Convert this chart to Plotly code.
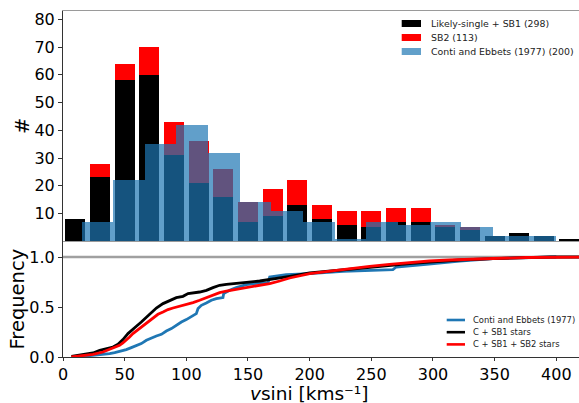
import plotly.graph_objects as go

# ---------------------------------------------------------------------------
# Histogram of projected rotational velocities (20 km/s bins, 0-420 km/s)
# ---------------------------------------------------------------------------
bin_left = [0, 20, 40, 60, 80, 100, 120, 140, 160, 180, 200,
            220, 240, 260, 280, 300, 320, 340, 360, 380, 400]
n_single_sb1 = [8, 23, 58, 60, 31, 21, 16, 7, 9, 13, 8,
                6, 5, 7, 7, 5, 4, 2, 3, 2, 1]
n_sb2 = [0, 5, 6, 10, 12, 15, 10, 7, 10, 9, 5,
         5, 6, 5, 5, 1, 1, 0, 0, 0, 0]

# Conti & Ebbets (1977) sample: 15 bins between 15 and 400 km/s
ce_edges = [15.0, 40.7, 66.3, 92.0, 117.7, 143.3, 169.0, 194.7,
            220.3, 246.0, 271.7, 297.3, 323.0, 348.7, 374.3, 400.0]
ce_counts = [7, 22, 35, 42, 32, 14, 11, 7, 1, 7, 6, 7, 5, 2, 2]

# ---------------------------------------------------------------------------
# Cumulative distributions
# ---------------------------------------------------------------------------
cdf_ce_v = [15.0, 24.3, 32.4, 37.8, 41.9, 47.3, 51.3, 55.4, 59.5, 63.5,
            67.6, 71.6, 75.7, 79.8, 83.8, 87.9, 91.9, 96.0, 100.0, 104.1,
            108.1, 109.5, 112.2, 116.2, 120.3, 124.3, 129.7, 130.3, 135.1, 140.5,
            148.6, 159.5, 166.2, 167.6, 181.0, 200.0, 227.0, 267.5, 270.2, 294.5,
            321.6, 348.6, 375.6, 400.0]
cdf_ce_f = [0.005, 0.017, 0.024, 0.034, 0.044, 0.057, 0.074, 0.094, 0.117, 0.134,
            0.167, 0.190, 0.210, 0.227, 0.260, 0.284, 0.317, 0.350, 0.374, 0.407,
            0.434, 0.484, 0.517, 0.540, 0.567, 0.584, 0.594, 0.634, 0.667, 0.694,
            0.724, 0.740, 0.740, 0.800, 0.824, 0.834, 0.857, 0.874, 0.900, 0.927,
            0.960, 0.984, 0.995, 1.0]

cdf_sb1_v = [6.8, 24.3, 29.8, 35.2, 40.5, 44.6, 48.6, 52.7, 55.4, 59.5,
             63.5, 67.6, 71.7, 75.7, 81.1, 86.5, 91.9, 97.3, 101.4, 110.8,
             116.3, 121.6, 127.0, 132.5, 140.6, 148.7, 159.5, 167.6, 183.8, 200.0,
             216.2, 232.4, 248.6, 264.8, 281.0, 297.2, 313.5, 321.7, 348.7, 375.7,
             395.0, 425.0]
cdf_sb1_f = [0.007, 0.040, 0.067, 0.084, 0.100, 0.127, 0.174, 0.234, 0.267, 0.307,
             0.350, 0.400, 0.450, 0.490, 0.534, 0.567, 0.594, 0.607, 0.634, 0.650,
             0.667, 0.694, 0.717, 0.727, 0.740, 0.747, 0.760, 0.774, 0.807, 0.840,
             0.860, 0.880, 0.900, 0.917, 0.934, 0.950, 0.967, 0.970, 0.984, 0.995,
             1.0, 1.0]

cdf_all_v = [6.8, 24.3, 32.4, 37.8, 41.9, 45.9, 48.6, 51.3, 54.0, 56.7,
             60.8, 64.8, 68.9, 72.9, 77.0, 81.1, 85.1, 89.2, 94.6, 100.0,
             105.4, 110.8, 116.3, 121.6, 127.0, 132.5, 140.6, 148.7, 159.5, 167.6,
             175.7, 183.8, 200.0, 216.2, 232.4, 248.6, 264.8, 281.0, 297.2, 313.5,
             321.7, 348.7, 375.7, 395.0, 425.0]
cdf_all_f = [0.0, 0.027, 0.050, 0.074, 0.094, 0.117, 0.140, 0.167, 0.200, 0.234,
             0.274, 0.317, 0.357, 0.394, 0.427, 0.450, 0.474, 0.490, 0.507, 0.527,
             0.544, 0.567, 0.594, 0.624, 0.644, 0.660, 0.677, 0.700, 0.717, 0.734,
             0.760, 0.790, 0.834, 0.860, 0.884, 0.907, 0.927, 0.944, 0.960, 0.970,
             0.972, 0.985, 0.995, 1.0, 1.0]

hist_labels = ["Likely-single + SB1 (298)", "SB2 (113)", "Conti and Ebbets (1977) (200)"]
cdf_labels = ["Conti and Ebbets (1977)", "C + SB1 stars", "C + SB1 + SB2 stars"]

TAB_BLUE = "#1f77b4"
FONT = "DejaVu Sans"

# ---------------------------------------------------------------------------
# Geometry
# ---------------------------------------------------------------------------
W, H = 579, 403
ML, MR, MT, MB = 63, 0, 11, 46
PW, PH = W - ML - MR, H - MT - MB
split = (H - MB - 241.3) / PH          # boundary between the two panels
XMAX = 418.4


def px_x(px):
    return (px - ML) / PW


def px_y(py):
    return (H - MB - py) / PH


bin_width = bin_left[1] - bin_left[0]
centers = [b + bin_width / 2 for b in bin_left]
ce_centers = [(a + b) / 2 for a, b in zip(ce_edges[:-1], ce_edges[1:])]
ce_widths = [b - a for a, b in zip(ce_edges[:-1], ce_edges[1:])]

fig = go.Figure()

# --- top panel: histograms --------------------------------------------------
fig.add_trace(go.Bar(x=centers, y=n_single_sb1, width=0.8 * bin_width,
                     marker=dict(color="black", line=dict(width=0)),
                     name=hist_labels[0], xaxis="x", yaxis="y"))
fig.add_trace(go.Bar(x=centers, y=n_sb2, base=n_single_sb1, width=0.8 * bin_width,
                     marker=dict(color="red", line=dict(width=0)),
                     name=hist_labels[1], xaxis="x", yaxis="y"))
fig.add_trace(go.Bar(x=ce_centers, y=ce_counts, width=ce_widths,
                     marker=dict(color=TAB_BLUE, line=dict(width=0)), opacity=0.7,
                     name=hist_labels[2], xaxis="x", yaxis="y"))

# --- bottom panel: cumulative distributions --------------------------------
for vx, fy, col, lab in [(cdf_ce_v, cdf_ce_f, TAB_BLUE, cdf_labels[0]),
                         (cdf_sb1_v, cdf_sb1_f, "black", cdf_labels[1]),
                         (cdf_all_v, cdf_all_f, "red", cdf_labels[2])]:
    fig.add_trace(go.Scatter(x=vx, y=fy, mode="lines", name=lab,
                             line=dict(color=col, width=2.8),
                             xaxis="x2", yaxis="y2"))

tickfont = dict(family=FONT, size=16, color="black")

fig.update_layout(
    width=W, height=H,
    margin=dict(l=ML, r=MR, t=MT, b=MB),
    paper_bgcolor="white", plot_bgcolor="white",
    barmode="overlay", bargap=0,
    showlegend=False,
    font=dict(family=FONT, color="black"),
    xaxis=dict(domain=[0, 1], anchor="y", range=[0, XMAX],
               showticklabels=False, ticks="", showgrid=False, zeroline=False,
               showline=True, linecolor="#9a9a9a", linewidth=1.4, mirror=True),
    yaxis=dict(domain=[split, 1], anchor="x", range=[0, 83],
               tickvals=[10, 20, 30, 40, 50, 60, 70, 80],
               ticks="outside", ticklen=4, tickwidth=1, tickcolor="#333",
               tickfont=tickfont, showgrid=False, zeroline=False,
               showline=True, linecolor="#333", linewidth=1),
    xaxis2=dict(domain=[0, 1], anchor="y2", range=[0, XMAX], matches="x",
                tickvals=[0, 50, 100, 150, 200, 250, 300, 350, 400],
                ticks="outside", ticklen=3, tickwidth=1, tickcolor="#333",
                tickfont=tickfont, showgrid=False, zeroline=False,
                showline=True, linecolor="#333", linewidth=1),
    yaxis2=dict(domain=[0, split], anchor="x2", range=[0, (H - MB - 241.3) / 100.0],
                tickvals=[0, 0.5, 1.0], ticktext=["0.0", "0.5", "1.0"],
                ticks="outside", ticklen=4, tickwidth=1, tickcolor="#333",
                tickfont=tickfont, showgrid=False, zeroline=False,
                showline=True, linecolor="#333", linewidth=1),
)

shapes = []
annotations = []

# reference line at F = 1
shapes.append(dict(type="line", xref="paper", yref="y2", x0=0, x1=1, y0=1.0, y1=1.0,
                   line=dict(color="#a0a0a0", width=2.3), layer="below"))

# --- legend of the histogram panel -----------------------------------------
hist_cols = [("black", 1.0), ("red", 1.0), (TAB_BLUE, 0.7)]
for i, (lab, (col, op)) in enumerate(zip(hist_labels, hist_cols)):
    yc = 23.5 + 14.0 * i
    shapes.append(dict(type="rect", xref="paper", yref="paper",
                       x0=px_x(401.7), x1=px_x(421.0),
                       y0=px_y(yc + 3.5), y1=px_y(yc - 3.5),
                       fillcolor=col, opacity=op, line=dict(width=0)))
    annotations.append(dict(xref="paper", yref="paper", x=px_x(429), y=px_y(yc),
                            xanchor="left", yanchor="middle", showarrow=False,
                            text=lab, font=dict(family=FONT, size=9.4, color="#222")))

# --- legend of the cumulative panel ----------------------------------------
cdf_cols = [TAB_BLUE, "black", "red"]
for i, (lab, col) in enumerate(zip(cdf_labels, cdf_cols)):
    yc = 320.0 + 12.2 * i
    shapes.append(dict(type="line", xref="paper", yref="paper",
                       x0=px_x(446.7), x1=px_x(465.0), y0=px_y(yc), y1=px_y(yc),
                       line=dict(color=col, width=2.6)))
    annotations.append(dict(xref="paper", yref="paper", x=px_x(470.7), y=px_y(yc),
                            xanchor="left", yanchor="middle", showarrow=False,
                            text=lab, font=dict(family=FONT, size=8.4, color="#222")))

# --- axis titles -------------------------------------------------------------
annotations.append(dict(xref="paper", yref="paper", x=px_x(22), y=px_y(126),
                        xanchor="center", yanchor="middle", showarrow=False,
                        textangle=-90, text="#",
                        font=dict(family=FONT, size=19.5, color="black")))
annotations.append(dict(xref="paper", yref="paper", x=px_x(16.5), y=px_y(299),
                        xanchor="center", yanchor="middle", showarrow=False,
                        textangle=-90, text="Frequency",
                        font=dict(family=FONT, size=19.5, color="black")))
annotations.append(dict(xref="paper", yref="paper", x=px_x(309), y=px_y(393.2),
                        xanchor="center", yanchor="middle", showarrow=False,
                        borderpad=0,
                        text="<i>v</i>sini [kms\u207b\u00b9]",
                        font=dict(family=FONT, size=18.5, color="black")))

fig.update_layout(shapes=shapes, annotations=annotations)

fig.write_html("out.html")
